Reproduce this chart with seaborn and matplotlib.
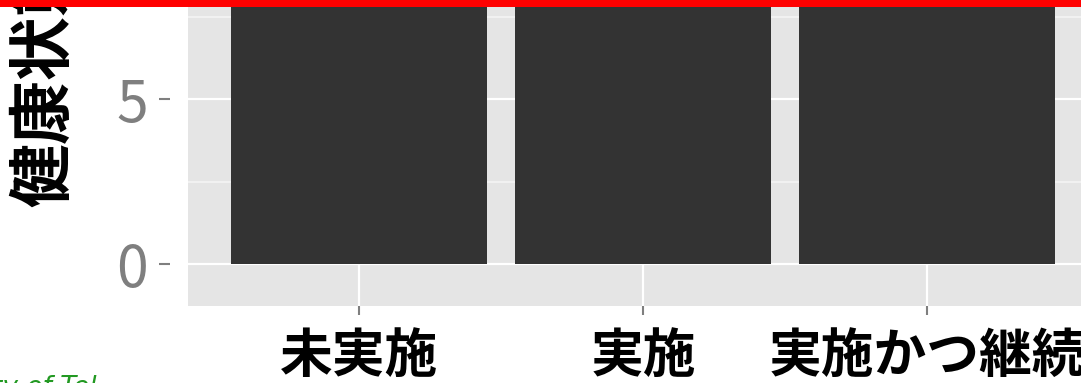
import matplotlib
matplotlib.use("Agg")
import matplotlib.pyplot as plt
import seaborn as sns
import pandas as pd
from matplotlib.ticker import MultipleLocator
from matplotlib.patches import Rectangle

# data
categories = ["未実施", "実施", "実施かつ継続"]
values = [9.0, 9.5, 9.2]  # bars run past the visible top (> 8)
y_label = "健康状態"
credit = "Society of Tel"

df = pd.DataFrame({"group": categories, "score": values})

sns.set_theme(style="white")
plt.rcParams["font.family"] = ["Noto Sans CJK JP", "DejaVu Sans"]

W, H = 1081, 383
fig = plt.figure(figsize=(W / 100, H / 100), dpi=100)
# panel runs past the right and top edge of the picture (cropped view)
ax = fig.add_axes([188 / W, 77 / H, 910 / W, 372 / H])
ax.set_facecolor("#E5E5E5")

sns.barplot(data=df, x="group", y="score", color="#333333", saturation=1,
            width=0.9, errorbar=None, linewidth=0, ax=ax, zorder=3)

ax.set_xlim(-0.6, 2.6)
ax.set_ylim(-1.27, 10)
ax.yaxis.set_major_locator(MultipleLocator(5))
ax.yaxis.set_minor_locator(MultipleLocator(2.5))

ax.grid(True, which="major", axis="both", color="white", linewidth=1.6, zorder=1)
ax.grid(True, which="minor", axis="y", color="#F3F3F3", linewidth=1.3, zorder=1)
ax.set_axisbelow(True)

for s in ax.spines.values():
    s.set_visible(False)
ax.spines["left"].set_position(("outward", 13))

ax.tick_params(axis="y", which="major", direction="out", length=8, width=1.5,
               color="#7F7F7F", labelcolor="#7F7F7F", labelsize=41, pad=8,
               left=True)
ax.tick_params(axis="x", which="major", direction="out", length=6.5, width=1.5,
               color="#7F7F7F", labelcolor="black", labelsize=38, pad=11,
               bottom=True)
ax.tick_params(which="minor", length=0)
for lab in ax.get_xticklabels():
    lab.set_fontweight("bold")

ax.set_xlabel("")
ax.set_ylabel("")

fig.text(12 / W, 176 / H, y_label, rotation=90, ha="left", va="bottom",
         fontsize=46, fontweight="bold", color="black")
fig.text(97 / W, -12 / H, credit, ha="right", va="baseline", fontsize=19,
         color="#229922", style="italic", family="DejaVu Sans")

# red band along the top edge
fig.add_artist(Rectangle((0, 1 - 6.5 / H), 1, 6.5 / H, transform=fig.transFigure,
                         facecolor="red", edgecolor="none", zorder=10))

fig.savefig("out.png", dpi=100)
